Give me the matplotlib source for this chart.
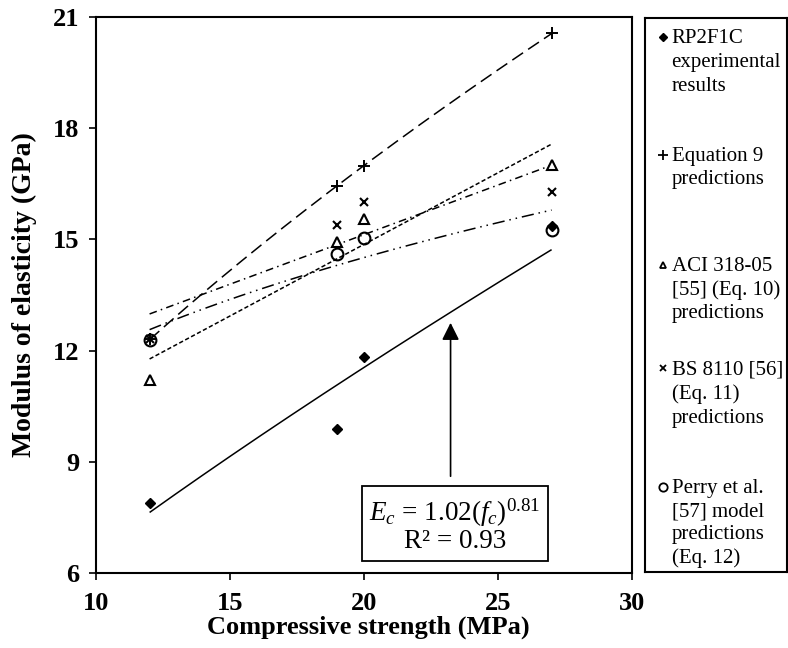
import numpy as np
import matplotlib
matplotlib.use("Agg")
import matplotlib.pyplot as plt

plt.rcParams["font.family"] = ["Liberation Serif", "DejaVu Serif"]
plt.rcParams["mathtext.fontset"] = "custom"
plt.rcParams["mathtext.rm"] = "Liberation Serif"
plt.rcParams["mathtext.it"] = "Liberation Serif:italic"

# Compressive strength of the mixes (MPa)
fc = [12, 19, 20, 27]

# Modulus of elasticity (GPa)
experimental = [7.89, 9.89, 11.83, 15.35]
eq9_pred = [12.30, 16.45, 16.97, 20.57]
aci_pred = [11.22, 14.92, 15.55, 17.00]
bs_pred = [12.30, 15.39, 16.00, 16.29]
perry_pred = [12.29, 14.60, 15.04, 15.26]

# Fitted power law for the experimental results
fit_coef = 1.02
fit_exp = 0.81
fit_r2 = 0.93

x_ticks = [10, 15, 20, 25, 30]
y_ticks = [6, 9, 12, 15, 18, 21]

legend_labels = [
    ["RP2F1C", "experimental", "results"],
    ["Equation 9", "predictions"],
    ["ACI 318-05", "[55] (Eq. 10)", "predictions"],
    ["BS 8110 [56]", "(Eq. 11)", "predictions"],
    ["Perry et al.", "[57] model", "predictions", "(Eq. 12)"],
]

W, H = 788, 648
fig = plt.figure(figsize=(W / 100, H / 100), dpi=100)

# plot area in pixels: left, right, top, bottom
pl, pr, pt, pb = 96, 632, 17, 573
ax = fig.add_axes([pl / W, 1 - pb / H, (pr - pl) / W, (pb - pt) / H])

xs = np.asarray(fc, dtype=float)
xfit = np.linspace(xs.min(), xs.max(), 200)


def power_fit(x, y):
    b, ln_a = np.polyfit(np.log(x), np.log(y), 1)
    return lambda t: np.exp(ln_a) * t ** b


def linear_fit(x, y):
    m, c = np.polyfit(x, y, 1)
    return lambda t: m * t + c


lw = 1.1
# trend lines
ax.plot(xfit, fit_coef * xfit ** fit_exp, color="black", lw=lw, solid_capstyle="butt")
ax.plot(xfit, power_fit(xs, eq9_pred)(xfit), color="black", lw=lw,
        linestyle=(0, (8.5, 4)))
ax.plot(xfit, linear_fit(xs, aci_pred)(xfit), color="black", lw=lw,
        linestyle=(0, (2.8, 1.6)))
ax.plot(xfit, linear_fit(xs, bs_pred)(xfit), color="black", lw=lw,
        linestyle=(0, (5, 2.8, 1, 2.8)))
ax.plot(xfit, power_fit(xs, perry_pred)(xfit), color="black", lw=lw,
        linestyle=(0, (8, 3.2, 1, 3.2, 1, 3.2)))

# series markers
styles = [
    dict(marker="D", ms=5.5, mfc="black", mec="black", mew=1.0),
    dict(marker="+", ms=8, mfc="none", mec="black", mew=1.4),
    dict(marker="^", ms=6.5, mfc="white", mec="black", mew=1.5),
    dict(marker="x", ms=6, mfc="none", mec="black", mew=1.5),
    dict(marker="o", ms=8.5, mfc="none", mec="black", mew=1.5),
]
series = [experimental, eq9_pred, aci_pred, bs_pred, perry_pred]
draw_order = [4, 2, 3, 1, 0]
for i in draw_order:
    ax.plot(fc, series[i], linestyle="none", zorder=3, **styles[i])

ax.set_xlim(10, 30)
ax.set_ylim(6, 21)
ax.set_xticks(x_ticks)
ax.set_yticks(y_ticks)
for s in ax.spines.values():
    s.set_linewidth(1.5)
ax.tick_params(axis="both", direction="out", length=5, width=1.2,
               labelsize=19)
ax.tick_params(axis="y", pad=7)
ax.tick_params(axis="x", pad=9)
for lab in ax.get_xticklabels() + ax.get_yticklabels():
    lab.set_fontweight("bold")

ax.set_xlabel("Compressive strength (MPa)", fontsize=19, fontweight="bold")
ax.set_ylabel("Modulus of elasticity (GPa)", fontsize=20, fontweight="bold")
ax.xaxis.set_label_coords(0.508, -0.077)
ax.yaxis.set_label_coords(-0.11, 0.5)

# annotation: fitted equation with an arrow pointing at the power-law line
arrow_x = 23.23
ax.annotate("", xy=(arrow_x, 12.75), xytext=(arrow_x, 8.61),
            arrowprops=dict(arrowstyle="-|>", color="black", lw=1.2,
                            mutation_scale=26, shrinkA=0, shrinkB=0))
ax.text(23.4, 7.3,
        "$E_c$ = 1.02($f_c$)$^{0.81}$\nR\u00b2 = %.2f" % fit_r2,
        ha="center", va="center", fontsize=19.5, linespacing=1.0,
        multialignment="center",
        bbox=dict(boxstyle="square,pad=0.28", fc="white", ec="black", lw=1.3))

# legend panel
ll, lr, lt, lb = 645, 786.5, 18, 572
lax = fig.add_axes([ll / W, 1 - lb / H, (lr - ll) / W, (lb - lt) / H])
lax.set_xlim(0, lr - ll)
lax.set_ylim(lb - lt, 0)
lax.set_xticks([])
lax.set_yticks([])
for s in lax.spines.values():
    s.set_linewidth(1.5)

line_centers = [
    [37, 61, 85],
    [155, 178],
    [265, 288.5, 312],
    [368, 392.5, 417],
    [487, 510, 533, 557],
]
legend_ms = [4.2, 6.5, 5, 4.6, 6]
for i, (lines, ys) in enumerate(zip(legend_labels, line_centers)):
    st = dict(styles[i])
    st["ms"] = legend_ms[i]
    st["mew"] = min(st["mew"], 1.3)
    lax.plot([17.5], [ys[0] - lt], linestyle="none", **st)
    for txt, yc in zip(lines, ys):
        lax.text(26.5, yc - lt + 6, txt, fontsize=15, ha="left",
                 va="baseline")

fig.savefig("out.png", dpi=100)
